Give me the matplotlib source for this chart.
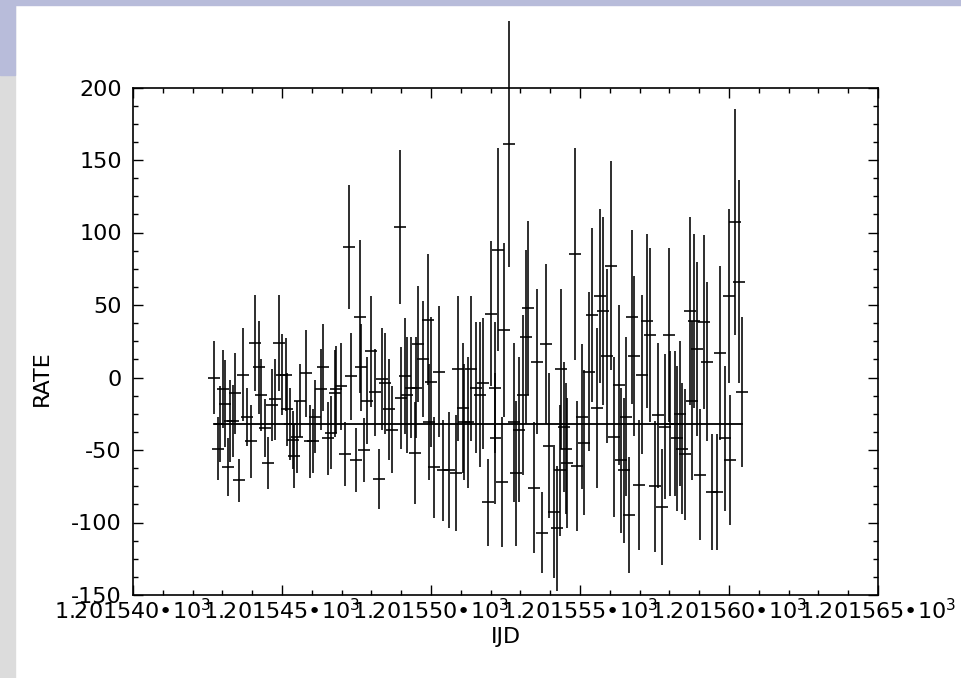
import matplotlib
matplotlib.use("Agg")
from matplotlib import pyplot as plt
from matplotlib.patches import Rectangle
from matplotlib.ticker import MultipleLocator, FuncFormatter

# time offsets from IJD 1201.540, in units of 1e-3 day
t_off = [2.72, 2.85, 2.92, 3.02, 3.09, 3.19, 3.26, 3.36, 3.42, 3.56,
         3.69, 3.83, 3.96, 4.09, 4.23, 4.30, 4.43, 4.53, 4.66, 4.77,
         4.90, 5.00, 5.13, 5.17, 5.27, 5.37, 5.40, 5.50, 5.60, 5.81,
         5.94, 6.04, 6.11, 6.31, 6.38, 6.54, 6.64, 6.78, 6.81, 6.98,
         7.11, 7.25, 7.32, 7.48, 7.62, 7.65, 7.75, 7.85, 7.99, 8.12,
         8.26, 8.36, 8.46, 8.59, 8.69, 8.96, 8.99, 9.13, 9.20, 9.33,
         9.46, 9.50, 9.56, 9.73, 9.90, 9.93, 10.00, 10.10, 10.27, 10.40,
         10.60, 10.84, 10.91, 11.07, 11.11, 11.24, 11.34, 11.51, 11.64, 11.75,
         11.91, 12.01, 12.15, 12.16, 12.25, 12.38, 12.45, 12.62, 12.79, 12.85,
         12.95, 13.09, 13.19, 13.26, 13.46, 13.56, 13.73, 13.86, 13.96, 14.13,
         14.23, 14.33, 14.36, 14.46, 14.53, 14.56, 14.83, 14.90, 15.07, 15.13,
         15.30, 15.40, 15.57, 15.67, 15.77, 15.91, 16.04, 16.14, 16.31, 16.38,
         16.48, 16.54, 16.64, 16.75, 16.81, 16.98, 17.08, 17.25, 17.35, 17.52,
         17.62, 17.75, 17.85, 17.99, 18.02, 18.19, 18.26, 18.36, 18.42, 18.52,
         18.69, 18.76, 18.83, 18.93, 19.03, 19.16, 19.26, 19.43, 19.60, 19.70,
         19.87, 20.00, 20.03, 20.20, 20.34, 20.44]

rate = [0, -49, -32, -8, -18, -62, -30, -30, -11, -71,
        2, -27, -44, 24, 7, -12, -35, -59, -19, -15,
        24, 2, 2, -22, -32, -43, -54, -41, -16, 3,
        -44, -44, -27, -8, 7, -42, -38, -11, -8, -6,
        -53, 90, 1, -57, 42, 7, -50, -16, 18, -10,
        -70, -1, -4, -22, -36, 104, -14, 1, -12, -7,
        -52, -7, 23, 13, 40, -31, -3, -62, 4, -64,
        -64, -66, 6, -21, -31, -31, 6, -7, -12, -4,
        -86, 44, -7, -42, 88, -72, 33, 161, -31, -66,
        -36, -12, 28, 48, -76, 11, -107, 23, -47, -93,
        -104, -64, 6, -34, -49, -59, 85, -61, -27, -45,
        4, 43, -21, 56, 46, 15, 77, -41, -5, -57,
        -64, -27, -95, 42, 15, -74, 2, 39, 29, -75,
        -26, -89, -34, 29, -32, -32, -42, -25, -49, -53,
        46, -16, 39, 20, -67, 38, 11, -79, -79, 17,
        -42, 56, -57, 107, 66, -10]

rate_err = [25, 22, 26, 27, 30, 20, 28, 25, 28, 15,
            32, 20, 25, 33, 32, 25, 20, 18, 25, 28,
            33, 28, 25, 25, 25, 20, 22, 25, 25, 30,
            25, 22, 25, 28, 30, 25, 25, 30, 30, 30,
            22, 43, 30, 22, 53, 30, 22, 30, 38, 30,
            21, 35, 35, 35, 30, 53, 35, 40, 40, 35,
            35, 35, 40, 40, 45, 40, 45, 35, 45, 35,
            40, 40, 50, 45, 40, 45, 50, 45, 50, 45,
            30, 50, 45, 45, 70, 45, 60, 85, 55, 50,
            50, 55, 60, 60, 45, 50, 28, 55, 50, 45,
            43, 45, 55, 45, 45, 45, 73, 45, 50, 50,
            55, 60, 55, 60, 65, 60, 72, 55, 55, 50,
            50, 55, 40, 60, 55, 45, 55, 60, 60, 45,
            50, 40, 50, 60, 50, 50, 50, 50, 45, 45,
            65, 55, 60, 60, 45, 60, 55, 40, 40, 60,
            50, 60, 45, 78, 70, 52]

bin_half = 0.19      # half bin width, 1e-3 day
fit_rate = -32       # constant model level
t0 = 1201.540

ijd = [t0 + t / 1000 for t in t_off]
ijd_err = bin_half / 1000

plt.rcParams['font.family'] = ['DejaVu Sans']
plt.rcParams['mathtext.fontset'] = 'custom'
plt.rcParams['mathtext.rm'] = 'DejaVu Sans'

fig = plt.figure(figsize=(9.61, 6.78), dpi=100)
fig.patch.set_facecolor('white')

# slide background strips
fig.patches.append(Rectangle((0, 0), 15 / 961, 1, transform=fig.transFigure,
                             color='#dcdcdc', zorder=-5))
fig.patches.append(Rectangle((0, 1 - 75 / 678), 15 / 961, 75 / 678,
                             transform=fig.transFigure, color='#b8bcda', zorder=-4))
fig.patches.append(Rectangle((0, 1 - 5 / 678), 1, 5 / 678,
                             transform=fig.transFigure, color='#b8bcda', zorder=-4))

ax = fig.add_axes([133 / 961, 83 / 678, 745 / 961, 507.5 / 678])

eb = ax.errorbar(ijd, rate, xerr=ijd_err, yerr=rate_err, fmt='none',
                 ecolor='black', elinewidth=1.15, capsize=0)
for col in eb[2]:
    col.set_clip_on(False)

ax.plot([ijd[0], ijd[-1]], [fit_rate, fit_rate], color='black', lw=1.3)

ax.set_xlim(1201.540, 1201.565)
ax.set_ylim(-150, 200)

ax.xaxis.set_major_locator(MultipleLocator(0.005))
ax.xaxis.set_minor_locator(MultipleLocator(0.001))
ax.yaxis.set_major_locator(MultipleLocator(50))
ax.yaxis.set_minor_locator(MultipleLocator(12.5))

ax.xaxis.set_major_formatter(
    FuncFormatter(lambda v, p: '%.6f\u202210$^3$' % (v / 1000)))
ax.yaxis.set_major_formatter(FuncFormatter(lambda v, p: '%d' % round(v)))

ax.tick_params(which='both', direction='in', top=True, right=True,
               width=1.0, labelsize=16, color='black')
ax.tick_params(which='major', length=7.5)
ax.tick_params(which='minor', length=3.8)
ax.tick_params(axis='y', pad=8)
ax.tick_params(axis='x', pad=2.5)

for s in ax.spines.values():
    s.set_linewidth(1.2)

ax.set_xlabel('IJD', fontsize=16)
ax.set_ylabel('RATE', fontsize=16)
ax.xaxis.set_label_coords(0.5, -0.064)
ax.yaxis.set_label_coords(-0.109, 0.428)

fig.savefig('out.png', dpi=100)
